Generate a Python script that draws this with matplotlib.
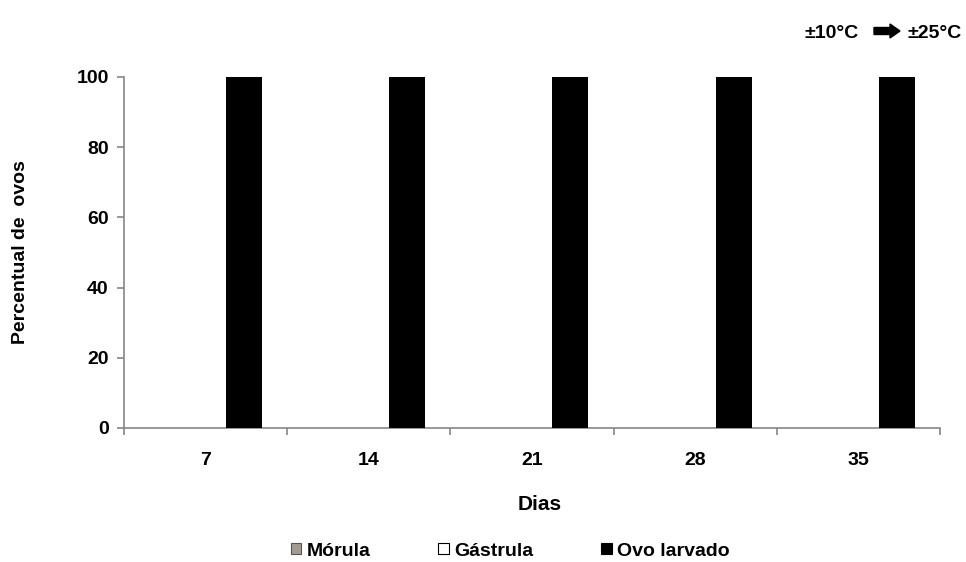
import matplotlib
matplotlib.use("Agg")
import matplotlib.pyplot as plt
from matplotlib.patches import Patch, FancyArrow
import numpy as np

plt.rcParams['font.family'] = ['Liberation Sans', 'DejaVu Sans']
plt.rcParams['font.weight'] = 'bold'

categories = ["7", "14", "21", "28", "35"]
series_names = ["Mórula", "Gástrula", "Ovo larvado"]
morula = [0, 0, 0, 0, 0]
gastrula = [0, 0, 0, 0, 0]
ovo_larvado = [100, 100, 100, 100, 100]
yticks = [0, 20, 40, 60, 80, 100]

colors = ["#a39c92", "white", "black"]
edges = ["#555555", "black", "black"]

FS = 14

fig = plt.figure(figsize=(9.66, 5.62), dpi=100)
ax = fig.add_axes([124/966, 1-428/562, (940-124)/966, (428-77)/562])

x = np.arange(len(categories))
w = 0.22
offs = [-0.235, 0.0, 0.235]
for vals, off, c in zip([morula, gastrula, ovo_larvado], offs, colors):
    ax.bar(x + off, vals, width=w, color=c, linewidth=0, zorder=3)

ax.set_xlim(-0.5, len(categories) - 0.5)
ax.set_ylim(0, 100)
ax.set_yticks(yticks)
ax.set_yticklabels([str(v) for v in yticks], fontsize=FS, fontweight='bold')
ax.set_xticks(x)
ax.set_xticklabels(categories, fontsize=FS, fontweight='bold')
ax.set_xticks(np.arange(len(categories) + 1) - 0.5, minor=True)
ax.tick_params(axis='x', which='major', length=0, pad=17)
ax.tick_params(axis='x', which='minor', length=5, color='#868686', width=1.2)
ax.tick_params(axis='y', length=5, color='#868686', width=1.2, pad=6)

for s in ['top', 'right']:
    ax.spines[s].set_visible(False)
for s in ['left', 'bottom']:
    ax.spines[s].set_color('#868686')
    ax.spines[s].set_linewidth(1.2)

fig.text(540/966, 1-505/562, "Dias", ha='center', va='center', fontsize=15, fontweight='bold')
fig.text(21/966, 1-252/562, "Percentual de  ovos", ha='center', va='center', rotation=90,
         fontsize=FS, fontweight='bold')

handles = [Patch(facecolor=c, edgecolor=e, linewidth=0.8) for c, e in zip(colors, edges)]
leg = fig.legend(handles, series_names, loc='center', bbox_to_anchor=(510/966, 1-551/562),
                 ncol=3, frameon=False, handlelength=0.55, handleheight=0.55,
                 handletextpad=0.25, columnspacing=3.5, borderpad=0,
                 prop={'weight': 'bold', 'size': FS})

fig.text(832/966, 1-33/562, "±10°C", ha='center', va='center', fontsize=FS, fontweight='bold')
fig.text(935/966, 1-33/562, "±25°C", ha='center', va='center', fontsize=FS, fontweight='bold')
fig.patches.append(FancyArrow(874/966, 1-31/562, 26/966, 0, width=7/562, head_width=14/562,
                              head_length=10/966, length_includes_head=True, color='black',
                              transform=fig.transFigure, figure=fig))

fig.savefig("out.png", dpi=100)
